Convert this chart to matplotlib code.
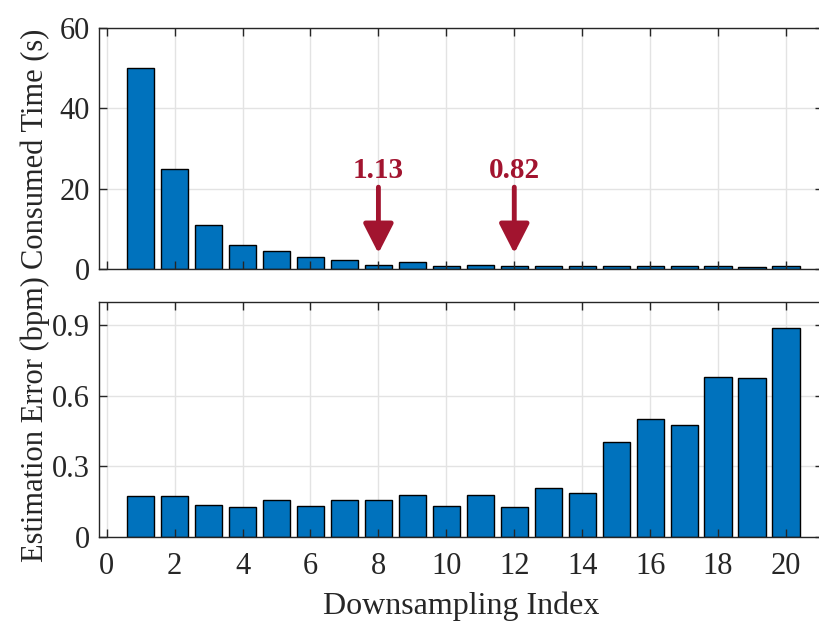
import matplotlib
matplotlib.use("Agg")
import matplotlib.pyplot as plt
import numpy as np

# Downsampling index for each bar
index = list(range(1, 21))

# Consumed time per downsampling index (s)
consumed_time = [50.0, 24.9, 11.0, 6.1, 4.55, 3.06, 2.4, 1.13, 1.8, 0.9,
                 1.0, 0.82, 0.9, 0.75, 0.8, 0.75, 0.7, 0.75, 0.65, 0.7]

# Estimation error per downsampling index (bpm)
estimation_error = [0.174, 0.173, 0.136, 0.128, 0.155, 0.130, 0.155, 0.158,
                     0.176, 0.131, 0.179, 0.128, 0.206, 0.185, 0.401, 0.499,
                     0.475, 0.678, 0.676, 0.890]

# Highlighted indices on the time panel
highlight_index = [8, 12]

x_ticks = list(range(0, 21, 2))
time_ticks = [0, 20, 40, 60]
error_ticks = [0, 0.3, 0.6, 0.9]
error_tick_labels = ["0", "0.3", "0.6", "0.9"]

bar_color = "#0072BD"
note_color = "#A2142F"
axis_color = "#262626"
grid_color = "#E3E3E3"

plt.rcParams["font.family"] = ["Liberation Serif", "DejaVu Serif"]

fig = plt.figure(figsize=(8.2, 6.26), dpi=100)
W, H = 820.0, 626.0
left = 99.3 / W
width = (823.0 - 99.3) / W
ax1 = fig.add_axes([left, 1 - 269.3 / H, width, (269.3 - 27.7) / H])
ax2 = fig.add_axes([left, 1 - 536.7 / H, width, (536.7 - 301.7) / H])


def style_axis(ax, yticks, ylim):
    ax.set_xlim(-0.218, 21.09)
    ax.set_ylim(*ylim)
    ax.set_xticks(x_ticks)
    ax.set_yticks(yticks)
    for t in x_ticks:
        ax.axvline(t, color=grid_color, lw=1.0, zorder=0)
    for t in yticks:
        ax.axhline(t, color=grid_color, lw=1.0, zorder=0)
    ax.tick_params(direction="in", length=6, width=1.0, colors=axis_color,
                   labelsize=22, top=True, right=True)
    ax.tick_params(axis="y", pad=7)
    ax.tick_params(axis="x", pad=11)
    for s in ax.spines.values():
        s.set_color(axis_color)
        s.set_linewidth(1.0)


ax1.bar(index, consumed_time, width=0.8, color=bar_color, edgecolor="black",
        linewidth=1.0, zorder=1)
style_axis(ax1, time_ticks, (0, 60))
ax1.tick_params(labelbottom=False)
ax1.set_ylabel("Consumed Time (s)", fontsize=22, color=axis_color)
ax1.yaxis.set_label_coords(-0.068, 0.5)

for i in highlight_index:
    v = consumed_time[i - 1]
    ax1.annotate("", xy=(i, 3.97), xytext=(i, 20.4),
                 arrowprops=dict(arrowstyle="-|>,head_length=0.9,head_width=0.46",
                                 mutation_scale=20, lw=3.5, color=note_color,
                                 shrinkA=0, shrinkB=0))
    ax1.text(i, 22.6, f"{v:.2f}", ha="center", va="baseline", fontsize=21,
             fontweight="bold", color=note_color)

ax2.bar(index, estimation_error, width=0.8, color=bar_color, edgecolor="black",
        linewidth=1.0, zorder=1)
style_axis(ax2, error_ticks, (0, 1.0))
ax2.set_yticklabels(error_tick_labels)
ax2.set_ylabel("Estimation Error (bpm)", fontsize=22, color=axis_color)
ax2.yaxis.set_label_coords(-0.068, 0.5)
ax2.set_xlabel("Downsampling Index", fontsize=23, color=axis_color)
ax2.xaxis.set_label_coords(0.5, -0.235)

fig.savefig("out.png", dpi=100)
